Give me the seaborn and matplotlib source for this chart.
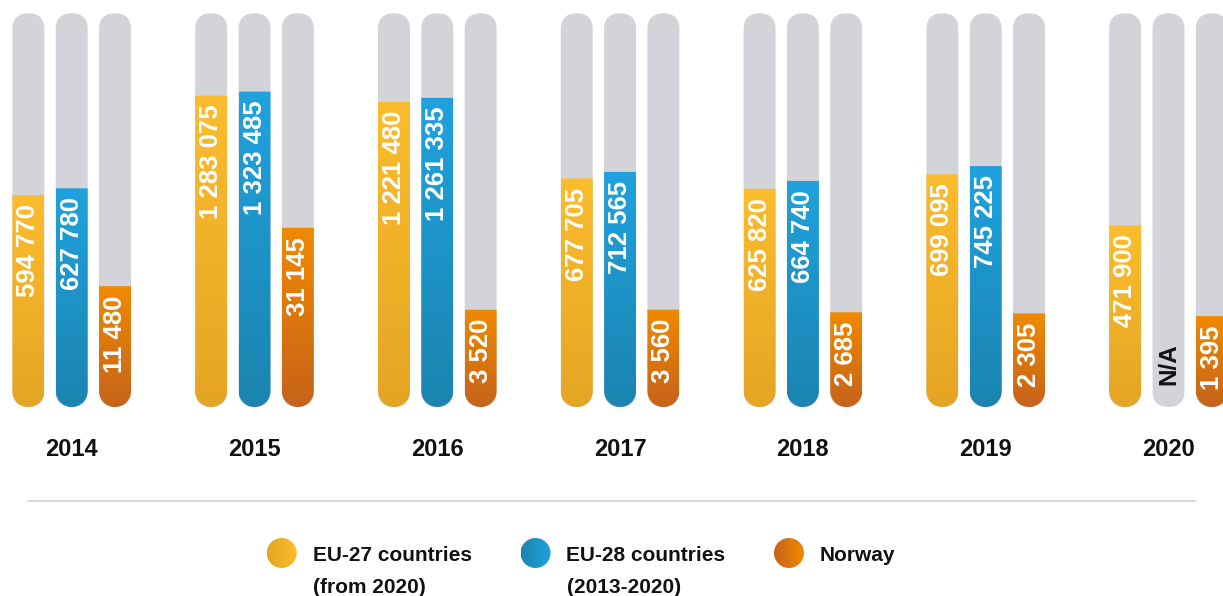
"""Pill-shaped bar chart: EU-27 / EU-28 / Norway per year."""

import numpy as np
import pandas as pd
import seaborn as sns
import matplotlib

matplotlib.use("Agg")
from matplotlib import pyplot as plt
from matplotlib import font_manager
from matplotlib.colors import LinearSegmentedColormap
from matplotlib.patches import Ellipse, FancyBboxPatch, Polygon

years = ["2014", "2015", "2016", "2017", "2018", "2019", "2020"]
series = ["EU-27 countries", "EU-28 countries", "Norway"]
legend_lines = [("EU-27 countries", "(from 2020)"), ("EU-28 countries", "(2013-2020)"), ("Norway", "")]
eu27 = [594770, 1283075, 1221480, 677705, 625820, 699095, 471900]
eu28 = [627780, 1323485, 1261335, 712565, 664740, 745225, np.nan]
norway = [11480, 31145, 3520, 3560, 2685, 2305, 1395]

# (top colour, bottom colour) of each bar gradient
GRADIENTS = {
    "EU-27 countries": ("#fbbc2e", "#e5a524"),
    "EU-28 countries": ("#20a2de", "#1b84b0"),
    "Norway": ("#f08a00", "#c6631b"),
}
TRACK = "#d3d4d9"
W, H = 1223, 596
BAR_WIDTH = 0.711
GAP = 0.262

names = {f.name for f in font_manager.fontManager.ttflist}
NARROW = "Liberation Sans Narrow" in names
LABEL_FONT = "Liberation Sans Narrow" if NARROW else "Liberation Sans"

sns.set_style("white")
plt.rcParams["font.family"] = ["Liberation Sans", "DejaVu Sans"]

df = pd.DataFrame(
    {
        "year": years * len(series),
        "series": np.repeat(series, len(years)),
        "value": eu27 + eu28 + norway,
    }
)
track = df.assign(value=1.0)

fig = plt.figure(figsize=(W / 100, H / 100), dpi=100)
rect = [0, (H - 407) / H, 1, (407 - 13.3) / H]
ax_track = fig.add_axes(rect)
ax_eu = fig.add_axes(rect)
ax_no = fig.add_axes(rect)
canvas = fig.add_axes([0, 0, 1, 1])
canvas.set_xlim(0, W)
canvas.set_ylim(H, 0)
canvas.set_autoscale_on(False)
canvas.axis("off")

common = dict(
    x="year", y="value", hue="series", order=years, hue_order=series,
    width=BAR_WIDTH, gap=GAP, dodge=True, errorbar=None, legend=False,
)
sns.barplot(data=track, ax=ax_track, palette={s: TRACK for s in series}, **common)
sns.barplot(data=df[df.series != "Norway"].dropna(), ax=ax_eu,
            palette={s: GRADIENTS[s][0] for s in series}, **common)
sns.barplot(data=df[df.series == "Norway"], ax=ax_no,
            palette={s: GRADIENTS[s][0] for s in series}, **common)

for ax in (ax_track, ax_eu, ax_no):
    ax.set_xlim(-71.7 / 182.8, (W - 71.7) / 182.8)
    ax.set_facecolor("none")
    for p in ax.patches:
        p.set_visible(False)
ax_track.set_ylim(0, 1)
ax_eu.set_yscale("log")
ax_eu.set_ylim(116300, 2421000)
ax_no.set_ylim(-29220, 103400)
ax_eu.axis("off")
ax_no.axis("off")

sns.despine(ax=ax_track, left=True, bottom=True)
ax_track.set_yticks([])
ax_track.set_xlabel("")
ax_track.set_ylabel("")
ax_track.tick_params(axis="x", length=0, pad=22, labelsize=17, labelcolor="#111111")
for lbl in ax_track.get_xticklabels():
    lbl.set_fontweight("bold")


def to_px(ax, x, y):
    return canvas.transData.inverted().transform(ax.transData.transform((x, y)))


def slot_of(p):
    xc = p.get_x() + p.get_width() / 2
    k = int(round(xc))
    return k, int(round((xc - k) / (BAR_WIDTH / 3))) + 1


def extent_px(ax, p, top):
    left, top_px = to_px(ax, p.get_x(), top)
    right, bottom_px = to_px(ax, p.get_x() + p.get_width(), ax.get_ylim()[0])
    return left, right, top_px, bottom_px


values = {(i, j): v for j, vals in enumerate((eu27, eu28, norway)) for i, v in enumerate(vals)}

# grey tracks
for p in ax_track.patches:
    left, right, top, bottom = extent_px(ax_track, p, 1.0)
    w = right - left
    canvas.add_patch(FancyBboxPatch((left, top), w, bottom - top,
                                    boxstyle=f"round,pad=0,rounding_size={w / 2}",
                                    facecolor=TRACK, edgecolor="none", zorder=1))
    i, j = slot_of(p)
    if np.isnan(values[(i, j)]):
        canvas.text((left + right) / 2, bottom - 22, "N/A", rotation=90, ha="center",
                    va="bottom", color="#111111", fontweight="bold",
                    fontsize=20 if NARROW else 17.5, family=LABEL_FONT, zorder=4)

grad = np.linspace(0, 1, 256).reshape(-1, 1)

# coloured bars with rounded bottom and vertical gradient
for ax in (ax_eu, ax_no):
    for p in ax.patches:
        val = p.get_y() + p.get_height()
        if not np.isfinite(val) or val <= 0:
            continue
        i, j = slot_of(p)
        name = series[j]
        left, right, top, bottom = extent_px(ax, p, val)
        r = (right - left) / 2
        t = np.linspace(0, np.pi, 40)
        verts = np.column_stack([left + r + r * np.cos(t), bottom - r + r * np.sin(t)])
        verts = np.vstack([verts, [[left, top], [right, top]]])
        poly = Polygon(verts, closed=True, facecolor="none", edgecolor="none",
                       transform=canvas.transData)
        canvas.add_patch(poly)
        cmap = LinearSegmentedColormap.from_list(name, [GRADIENTS[name][1], GRADIENTS[name][0]])
        im = canvas.imshow(grad, extent=(left, right, bottom, top), origin="lower",
                           cmap=cmap, aspect="auto", interpolation="bicubic", zorder=2)
        im.set_clip_path(poly)
        canvas.text((left + right) / 2, top + 9, f"{int(val):,}".replace(",", " "),
                    rotation=90, ha="center", va="top", color="white", fontweight="bold",
                    fontsize=21 if NARROW else 18.5, family=LABEL_FONT, zorder=4)

# separator line
canvas.plot([28, 1195], [501, 501], color=TRACK, lw=1.3, zorder=1)

# legend
hgrad = np.linspace(0, 1, 256).reshape(1, -1)
for k, name in enumerate(series):
    cx, cy = (281.7, 535.5, 789)[k], 553
    ell = Ellipse((cx, cy), 30, 30, facecolor="none", edgecolor="none",
                  transform=canvas.transData)
    canvas.add_patch(ell)
    cmap = LinearSegmentedColormap.from_list(name + "_lg", [GRADIENTS[name][1], GRADIENTS[name][0]])
    im = canvas.imshow(hgrad, extent=(cx - 15, cx + 15, cy + 15, cy - 15), cmap=cmap,
                       aspect="auto", interpolation="bicubic", zorder=2)
    im.set_clip_path(ell)
    first, second = legend_lines[k]
    for line, y in ((first, 561), (second, 593)):
        canvas.text(cx + 31, y, line, ha="left", va="baseline", color="#111111",
                    fontweight="bold", fontsize=15, family=LABEL_FONT, zorder=4)

fig.savefig("out.png", dpi=100)
